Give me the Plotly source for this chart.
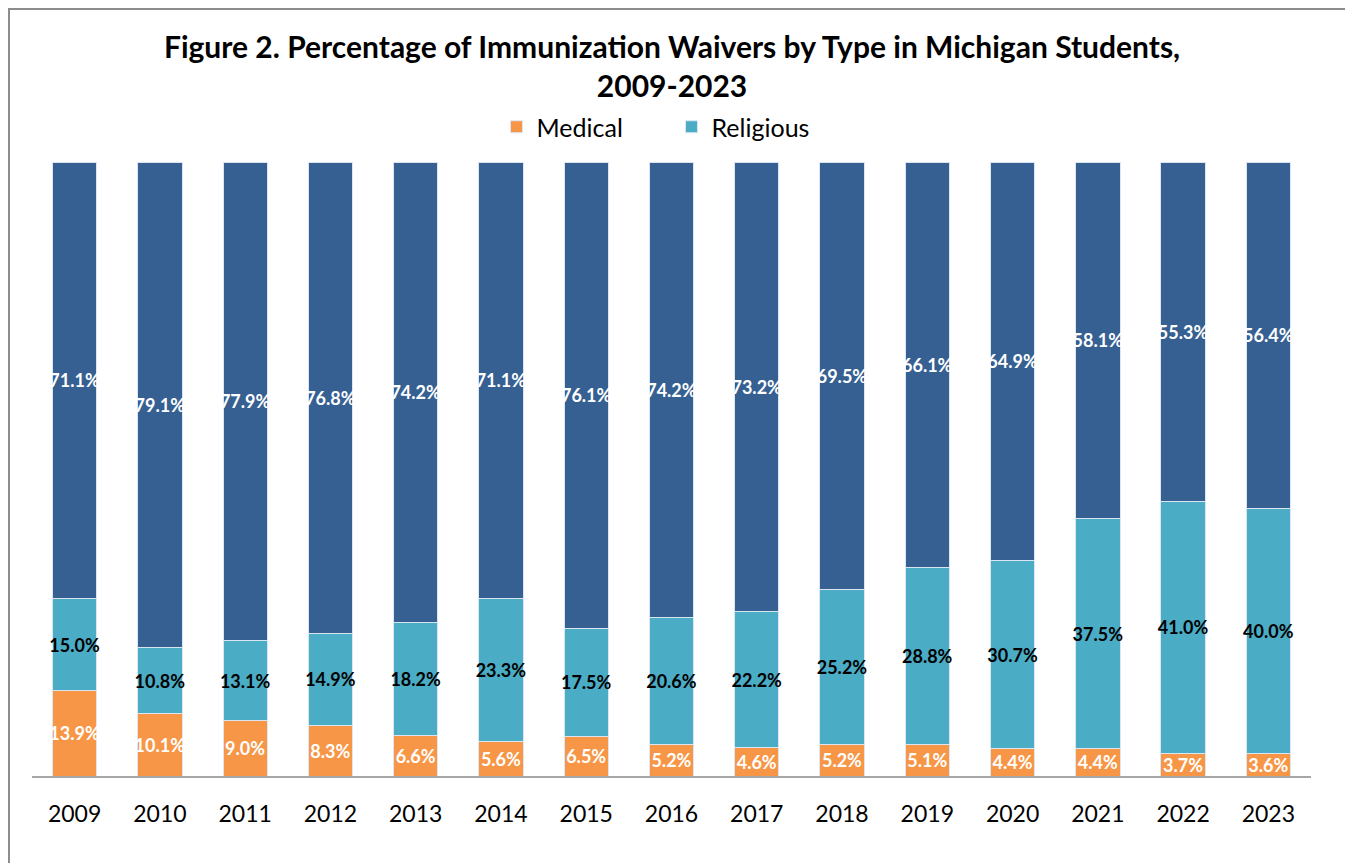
import plotly.graph_objects as go

years = ["2009", "2010", "2011", "2012", "2013", "2014", "2015", "2016",
         "2017", "2018", "2019", "2020", "2021", "2022", "2023"]
medical = [13.9, 10.1, 9.0, 8.3, 6.6, 5.6, 6.5, 5.2, 4.6, 5.2, 5.1, 4.4, 4.4, 3.7, 3.6]
religious = [15.0, 10.8, 13.1, 14.9, 18.2, 23.3, 17.5, 20.6, 22.2, 25.2, 28.8, 30.7, 37.5, 41.0, 40.0]
philosophical = [71.1, 79.1, 77.9, 76.8, 74.2, 71.1, 76.1, 74.2, 73.2, 69.5, 66.1, 64.9, 58.1, 55.3, 56.4]

C_MED = "#F79646"
C_REL = "#4BACC6"
C_PHI = "#366092"
FONT = "Lato"

def labels(vals):
    return [f"{v:.1f}%" for v in vals]

fig = go.Figure()
series = [
    ("Medical", medical, C_MED, "white", True),
    ("Religious", religious, C_REL, "black", True),
    ("Philosophical", philosophical, C_PHI, "white", False),
]
for name, vals, col, tcol, show in series:
    fig.add_trace(go.Bar(
        x=years, y=vals, name=name, showlegend=show,
        marker=dict(color=col, line=dict(color="#DCE6F2", width=1)),
        text=labels(vals), textposition="inside", insidetextanchor="middle",
        constraintext="none", cliponaxis=False,
        textfont=dict(family=FONT, size=18, color=tcol, weight="bold"),
        textangle=0,
    ))

fig.update_layout(
    width=1353, height=863,
    barmode="stack", barnorm="percent", bargap=0.48,
    paper_bgcolor="white", plot_bgcolor="white",
    margin=dict(l=24, r=50, t=154, b=95),
    font=dict(family=FONT, color="black"),
    title=dict(
        text="<b>Figure 2. Percentage of Immunization Waivers by Type in Michigan Students,<br>2009-2023</b>",
        x=0.4908, xanchor="center", y=0.9426, yanchor="middle",
        font=dict(family=FONT, size=30, color="black"),
    ),
    legend=dict(
        orientation="h", x=0.5, xanchor="center", y=1.057, yanchor="middle",
        font=dict(family=FONT, size=25, color="black"),
        traceorder="normal", entrywidth=130, entrywidthmode="pixels",
        itemclick=False, itemdoubleclick=False,
    ),
    xaxis=dict(
        type="category", showline=True, linecolor="#A6A6A6", linewidth=2,
        ticks="", showgrid=False, zeroline=False, ticklabelstandoff=16,
        tickfont=dict(family=FONT, size=23, color="black"),
    ),
    yaxis=dict(range=[0, 100.01], visible=False, showgrid=False, zeroline=False),
    uniformtext=dict(mode=False),
)

fig.add_shape(type="rect", xref="paper", yref="paper",
              x0=-0.0180, x1=1.0313, y0=-0.2, y1=1.2492,
              line=dict(color="#8C8C8C", width=2), fillcolor="rgba(0,0,0,0)", layer="below")

fig.write_html("out.html")
